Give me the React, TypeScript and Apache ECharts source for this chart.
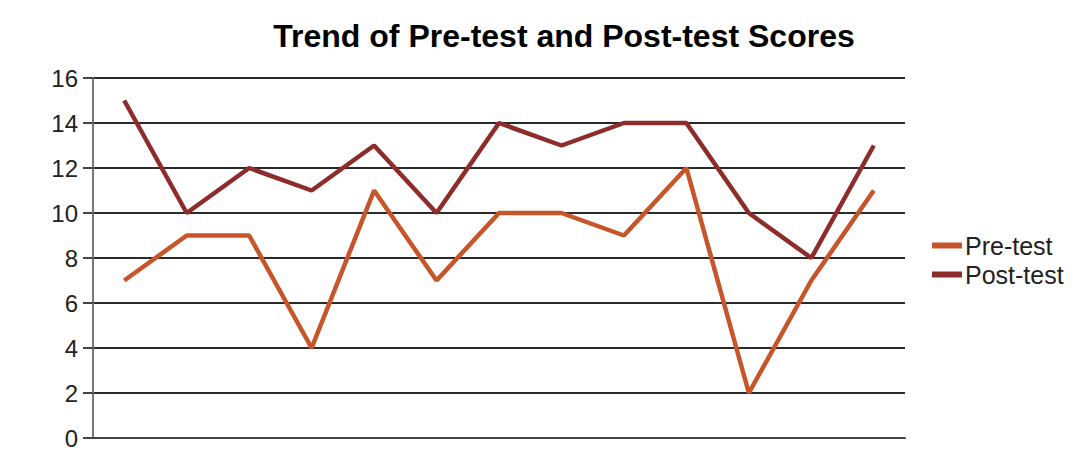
import React, { useEffect, useRef } from "react";
import * as echarts from "echarts";

const categories = ["1", "2", "3", "4", "5", "6", "7", "8", "9", "10", "11", "12", "13"];
const preTest = [7, 9, 9, 4, 11, 7, 10, 10, 9, 12, 2, 7, 11];
const postTest = [15, 10, 12, 11, 13, 10, 14, 13, 14, 14, 10, 8, 13];

const FONT = "Liberation Sans, Arial, sans-serif";

export default function App() {
  const ref = useRef<HTMLDivElement>(null);
  useEffect(() => {
    if (!ref.current) return;
    const chart = echarts.init(ref.current, null, { renderer: "svg" });
    chart.setOption({
      animation: false,
      backgroundColor: "#ffffff",
      title: {
        text: "Trend of Pre-test and Post-test Scores",
        left: 559,
        textAlign: "center",
        top: 15,
        textStyle: { fontFamily: FONT, fontSize: 32, fontWeight: "bold", color: "#000" },
      },
      legend: {
        orient: "vertical",
        left: 927,
        top: 228,
        icon: "rect",
        itemWidth: 30,
        itemHeight: 6,
        itemGap: 4,
        textStyle: { fontFamily: FONT, fontSize: 25, color: "#222", padding: [0, 0, 0, -2] },
        data: ["Pre-test", "Post-test"],
      },
      grid: { left: 93, right: 173, top: 78, bottom: 12, containLabel: false },
      xAxis: {
        type: "category",
        data: categories,
        boundaryGap: true,
        axisLine: { show: true, lineStyle: { color: "#444", width: 2 } },
        axisTick: { show: false },
        axisLabel: { show: false },
        splitLine: { show: false },
      },
      yAxis: {
        type: "value",
        min: 0,
        max: 16,
        interval: 2,
        axisLine: { show: true, lineStyle: { color: "#777", width: 2 } },
        axisTick: { show: true, length: 10, lineStyle: { color: "#444", width: 2 } },
        axisLabel: { fontFamily: FONT, fontSize: 24, color: "#222", margin: 15 },
        splitLine: { show: true, lineStyle: { color: "#2a2a2a", width: 2 } },
      },
      series: [
        {
          name: "Pre-test",
          type: "line",
          data: preTest,
          symbol: "none",
          lineStyle: { color: "#c8552a", width: 4.5 },
          itemStyle: { color: "#c8552a" },
        },
        {
          name: "Post-test",
          type: "line",
          data: postTest,
          symbol: "none",
          lineStyle: { color: "#8e2c2c", width: 4.5 },
          itemStyle: { color: "#8e2c2c" },
        },
      ],
    });
    return () => chart.dispose();
  }, []);
  return (
    <div
      ref={ref}
      style={{ position: "absolute", left: 0, top: 0, width: 1078, height: 450 }}
    />
  );
}
